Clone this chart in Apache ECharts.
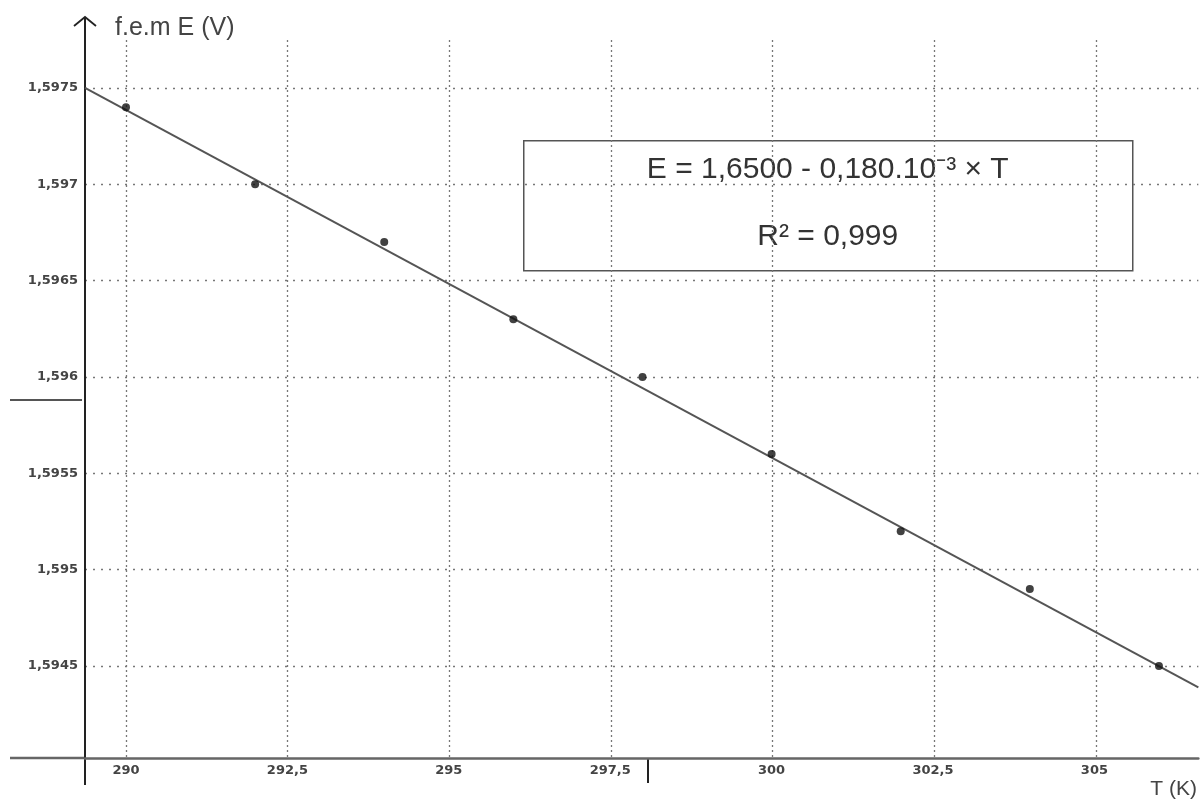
<!DOCTYPE html>
<html>
<head>
<meta charset="utf-8">
<script src="https://cdn.jsdelivr.net/npm/echarts@6/dist/echarts.min.js"></script>
<style>html,body{margin:0;padding:0;background:#fff}#c{width:1200px;height:800px}</style>
</head>
<body>
<div id="c"></div>
<script>
// ---- data ----
var temperatures = [290, 292, 294, 296, 298, 300, 302, 304, 306];
var emf = [1.5974, 1.5970, 1.5967, 1.5963, 1.5960, 1.5956, 1.5952, 1.5949, 1.5945];
var fitT = [289.365, 306.61];
var fitE = [1.5975, 1.59439];
var xTicks = [290, 292.5, 295, 297.5, 300, 302.5, 305];
var yTicks = [1.5945, 1.595, 1.5955, 1.596, 1.5965, 1.597, 1.5975];
var xRange = [289.365, 306.61];
var yRange = [1.594023, 1.597863];
var equationText = 'E = 1,6500 - 0,180.10⁻³ × T';
var r2Text = 'R² = 0,999';
var yName = 'f.e.m E (V)';
var xName = 'T (K)';

function fr(v) { return String(+v.toFixed(6)).replace('.', ','); }

var points = temperatures.map(function (t, i) { return [t, emf[i]]; });
var fit = fitT.map(function (t, i) { return [t, fitE[i]]; });

var chart = echarts.init(document.getElementById('c'));
var labelFont = { fontFamily: 'DejaVu Sans', fontWeight: 'bold', fontSize: 13, color: '#444' };

chart.setOption({
  backgroundColor: '#ffffff',
  animation: false,
  grid: [
    { left: 85, right: 0, top: 18, bottom: 42 },
    { left: 85, right: 0, top: 40, bottom: 42 }
  ],
  xAxis: [{
    gridIndex: 0, type: 'value', min: xRange[0], max: xRange[1],
    name: xName, nameLocation: 'end', nameGap: -48,
    nameTextStyle: { fontFamily: 'Liberation Sans', fontSize: 21, color: '#444', align: 'left', verticalAlign: 'top', padding: [21, 0, 0, 0] },
    axisLine: { onZero: false, lineStyle: { color: '#666', width: 2.5 } },
    axisTick: { show: false },
    splitLine: { show: false },
    axisLabel: Object.assign({ customValues: xTicks, margin: 6, formatter: fr }, labelFont)
  }, {
    gridIndex: 1, type: 'value', min: xRange[0], max: xRange[1],
    axisLine: { show: false }, axisLabel: { show: false },
    axisTick: { show: false, customValues: xTicks },
    splitLine: { show: true, lineStyle: { color: '#777', width: 1.3, type: [2, 3] } }
  }],
  yAxis: [{
    gridIndex: 0, type: 'value', min: yRange[0], max: yRange[1],
    name: yName, nameLocation: 'end', nameGap: -10,
    nameTextStyle: { fontFamily: 'Liberation Sans', fontSize: 25, color: '#444', align: 'left', verticalAlign: 'middle', padding: [0, 0, 0, 30] },
    axisLine: { onZero: false, lineStyle: { color: '#222', width: 2 } },
    axisTick: { show: false, customValues: yTicks },
    splitLine: { show: true, lineStyle: { color: '#777', width: 1.3, type: [2, 6] } },
    axisLabel: Object.assign({ customValues: yTicks, margin: 7, formatter: fr }, labelFont)
  }, {
    gridIndex: 1, type: 'value', min: yRange[0], max: yRange[1], show: false
  }],
  series: [{
    type: 'line', xAxisIndex: 0, yAxisIndex: 0, data: fit,
    showSymbol: false, lineStyle: { color: '#555', width: 2 }, z: 3
  }, {
    type: 'scatter', xAxisIndex: 0, yAxisIndex: 0, data: points,
    symbol: 'circle', symbolSize: 8, itemStyle: { color: '#111' }, z: 4
  }],
  graphic: [
    { type: 'polyline', shape: { points: [[74, 26], [85, 17], [96, 26]] }, style: { stroke: '#222', lineWidth: 1.8, fill: null } },
    { type: 'line', shape: { x1: 10, y1: 758, x2: 85, y2: 758 }, style: { stroke: '#666', lineWidth: 2.5 } },
    { type: 'line', shape: { x1: 85, y1: 758, x2: 85, y2: 785 }, style: { stroke: '#222', lineWidth: 2 } },
    { type: 'line', shape: { x1: 10, y1: 400, x2: 82, y2: 400 }, style: { stroke: '#555', lineWidth: 2 } },
    { type: 'line', shape: { x1: 648, y1: 758, x2: 648, y2: 783 }, style: { stroke: '#222', lineWidth: 2 } },
    {
      type: 'group', left: 523, top: 140, z: 10,
      children: [
        { type: 'rect', shape: { x: 0, y: 0, width: 609, height: 130 }, style: { fill: '#fff', stroke: '#555', lineWidth: 1.5 } },
        { type: 'text', x: 304, y: 29, style: { text: equationText, font: '30px "Liberation Sans"', fill: '#333', align: 'center', verticalAlign: 'middle' } },
        { type: 'text', x: 304, y: 96, style: { text: r2Text, font: '30px "Liberation Sans"', fill: '#333', align: 'center', verticalAlign: 'middle' } }
      ]
    }
  ]
});
</script>
</body>
</html>
